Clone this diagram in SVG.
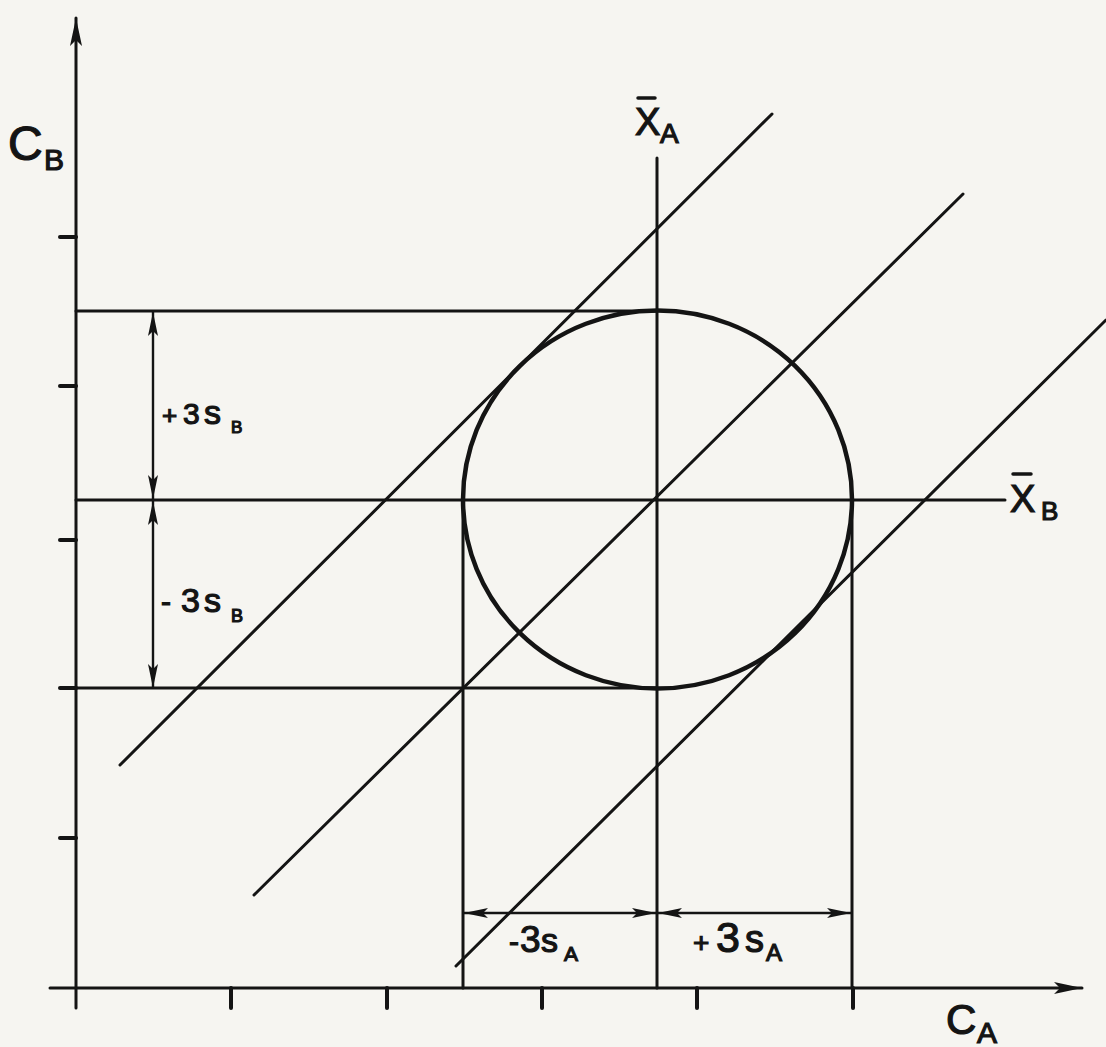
<svg xmlns="http://www.w3.org/2000/svg" width="1106" height="1047" viewBox="0 0 1106 1047">
  <style>
    .ln { stroke: #141414; stroke-width: 3; fill: none; stroke-linecap: round; }
    .thick { stroke: #141414; stroke-width: 4.5; fill: none; }
    .tick { stroke: #141414; stroke-width: 4; stroke-linecap: round; }
    .dim { stroke: #141414; stroke-width: 2.4; fill: none; }
    .bar { stroke: #141414; stroke-width: 3.5; stroke-linecap: round; }
    text { font-family: "Liberation Sans", "DejaVu Sans", sans-serif; fill: #141414; stroke: #141414; stroke-width: 1.2; }
  </style>
  <defs>
    <marker id="ah" markerUnits="userSpaceOnUse" markerWidth="26" markerHeight="12" refX="24" refY="6" orient="auto-start-reverse" viewBox="0 0 26 12">
      <path d="M0,1 L24,6 L0,11 L5,6 z" fill="#141414"/>
    </marker>
    <marker id="axh" markerUnits="userSpaceOnUse" markerWidth="30" markerHeight="14" refX="28" refY="7" orient="auto" viewBox="0 0 30 14">
      <path d="M0,1 L28,7 L0,13 L6,7 z" fill="#141414"/>
    </marker>
  </defs>
  <rect width="1106" height="1047" fill="#f6f5f1"/>

  <g id="axes">
    <line class="ln" x1="76" y1="1008" x2="76" y2="18" marker-end="url(#axh)"/>
    <line class="ln" x1="50" y1="988" x2="1082" y2="988" marker-end="url(#axh)"/>
    <g id="x-ticks">
      <line class="tick" x1="231" y1="988" x2="231" y2="1008"/>
      <line class="tick" x1="387" y1="988" x2="387" y2="1008"/>
      <line class="tick" x1="542" y1="988" x2="542" y2="1008"/>
      <line class="tick" x1="697" y1="988" x2="697" y2="1008"/>
      <line class="tick" x1="853" y1="988" x2="853" y2="1008"/>
    </g>
    <g id="y-ticks">
      <line class="tick" x1="60" y1="237" x2="76" y2="237"/>
      <line class="tick" x1="60" y1="386" x2="76" y2="386"/>
      <line class="tick" x1="60" y1="540" x2="76" y2="540"/>
      <line class="tick" x1="60" y1="688" x2="76" y2="688"/>
      <line class="tick" x1="60" y1="838" x2="76" y2="838"/>
    </g>
  </g>

  <g id="connectors">
    <line class="ln" x1="76" y1="311" x2="657" y2="311"/>
    <line class="ln" x1="76" y1="500" x2="1005" y2="500"/>
    <line class="ln" x1="76" y1="688" x2="657" y2="688"/>
    <line class="ln" x1="657" y1="158" x2="657" y2="988"/>
    <line class="ln" x1="463" y1="500" x2="463" y2="988"/>
    <line class="ln" x1="852" y1="500" x2="852" y2="988"/>
    <line class="ln" x1="120" y1="765" x2="772" y2="114"/>
    <line class="ln" x1="254" y1="895" x2="963" y2="194"/>
    <line class="ln" x1="456" y1="966" x2="1106" y2="320"/>
  </g>

  <g id="circle">
    <ellipse class="thick" cx="657.5" cy="499.5" rx="194.5" ry="189"/>
  </g>

  <g id="dimensions">
    <line class="dim" x1="153" y1="312" x2="153" y2="499" marker-start="url(#ah)" marker-end="url(#ah)"/>
    <line class="dim" x1="153" y1="501" x2="153" y2="688" marker-start="url(#ah)" marker-end="url(#ah)"/>
    <line class="dim" x1="464" y1="913" x2="656" y2="913" marker-start="url(#ah)" marker-end="url(#ah)"/>
    <line class="dim" x1="658" y1="913" x2="851" y2="913" marker-start="url(#ah)" marker-end="url(#ah)"/>
  </g>

  <g id="label-CB">
    <text x="8" y="160" font-size="48">C</text>
    <text x="44" y="170" font-size="30">B</text>
  </g>
  <g id="label-XA">
    <line class="bar" x1="638" y1="98" x2="655" y2="98"/>
    <text x="635" y="135" font-size="38">X</text>
    <text x="660" y="143" font-size="28">A</text>
  </g>
  <g id="label-XB">
    <line class="bar" x1="1013" y1="474" x2="1031" y2="474"/>
    <text x="1010" y="512" font-size="38">X</text>
    <text x="1041" y="520" font-size="26">B</text>
  </g>
  <g id="label-CA">
    <text x="946" y="1034" font-size="42">C</text>
    <text x="977" y="1043" font-size="30">A</text>
  </g>
  <g id="label-plus3sB">
    <text y="424" font-size="30"><tspan x="162" font-size="26">+</tspan><tspan x="183">3</tspan><tspan x="204" font-size="34">s</tspan><tspan x="231" y="433" font-size="17">B</tspan></text>
  </g>
  <g id="label-minus3sB">
    <text y="612" font-size="34"><tspan x="161" font-size="30">-</tspan><tspan x="181">3</tspan><tspan x="204" font-size="34">s</tspan><tspan x="231" y="622" font-size="18">B</tspan></text>
  </g>
  <g id="label-minus3sA">
    <text y="952" font-size="37"><tspan x="509" font-size="30">-</tspan><tspan x="520">3</tspan><tspan x="541" font-size="34">s</tspan><tspan x="564" y="961" font-size="21">A</tspan></text>
  </g>
  <g id="label-plus3sA">
    <text y="952" font-size="43"><tspan x="693" font-size="28">+</tspan><tspan x="716">3</tspan><tspan x="745" font-size="38">s</tspan><tspan x="766" y="961" font-size="24">A</tspan></text>
  </g>
</svg>
